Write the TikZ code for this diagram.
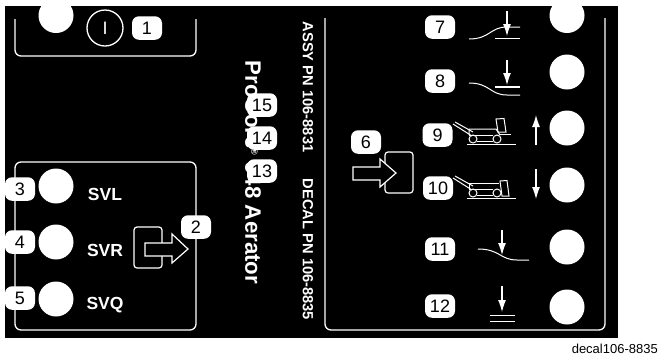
\documentclass[tikz,border=0pt]{standalone}
\usepackage{fontspec}
\setmainfont{Liberation Sans}
\newcommand{\px}[1]{\fontsize{#1}{#1}\selectfont}
\usetikzlibrary{arrows.meta}
\tikzset{
    badge/.style={fill=white,text=black,rounded corners=7pt,inner sep=0pt,minimum width=30pt,minimum height=23.5pt,font=\px{18}},
    hole/.style={circle,fill=white,inner sep=0pt,minimum size=35pt},
    panel/.style={draw=white,line width=1.3pt,rounded corners=6pt},
    sym/.style={draw=white,line width=1pt},
    symarrow/.style={draw=white,line width=1.1pt,-{Latex[length=12pt,width=8pt]}},
    blockarrow/.style={draw=white,fill=black,line width=1.2pt},
    decaltext/.style={text=white,font=\px{14.7}\bfseries,rotate=-90},
    svlabel/.style={text=white,font=\px{17.5}\bfseries},
}
\begin{document}
\begin{tikzpicture}[x=1pt,y=-1pt]
    \fill[white] (0,0) rectangle (661,360);
    \useasboundingbox (0,0) rectangle (661,360);
    \fill[black] (5,6) rectangle (617.5,338);
    %% panels
    \draw[panel] (15,19) -- (15,56) -- (196,56) -- (196,19);
    \draw[panel] (15,162) rectangle (196,330);
    \draw[panel] (325,18) -- (325,330) -- (605,330) -- (605,18);
    %% holes
    \foreach \name/\x/\y in {ha/56/15.5,hb/56/186,hc/56/242,hd/56/299,
        he/567/15.5,hf/567/72,hg/567/128,hh/567/185,hi/567/247,hj/567/307}
        \node[hole] (\name) at (\x,\y) {};
    %% switch symbol
    \node[circle,draw=white,line width=1.3pt,minimum size=36pt,inner sep=0pt,text=white,font=\px{18}] (onoff) at (105,28) {I};
    %% labels
    \node[svlabel] (svl) at (105,194) {SVL};
    \node[svlabel] (svr) at (105,250) {SVR};
    \node[svlabel] (svq) at (105,305) {SVQ};
    \node[decaltext] (assy) at (308,87) {ASSY PN 106-8831};
    \node[decaltext] (decal) at (308,249.5) {DECAL PN 106-8835};
    \node[text=white,font=\px{22.3}\bfseries,rotate=-90] (title) at (253,172.5) {ProCore{\px{9}\raisebox{6pt}{®}} 648 Aerator};
    \node[text=black,font=\px{13},anchor=east,inner sep=0pt] (caption) at (658,349) {decal106-8835};
    %% left block arrow
    \draw[draw=white,line width=1.2pt,rounded corners=3pt] (134,227) rectangle (162,268);
    \draw[blockarrow] (145,243) -- (172,243) -- (172,234) -- (188,249)
        -- (172,263) -- (172,256) -- (145,256) -- cycle;
    %% right block arrow
    \draw[draw=white,line width=1.2pt,rounded corners=3pt] (385,152) rectangle (413,193);
    \draw[blockarrow] (353,167) -- (380,167) -- (380,159) -- (396,173)
        -- (380,187) -- (380,180) -- (353,180) -- cycle;
    %% raise curve
    \draw[sym] (469,39) .. controls (490,39) and (490,27) .. (507,27) -- (520,27);
    \draw[sym] (495,38) -- (520,38);
    \coordinate (sa) at (507,11);
    \coordinate (sb) at (507,36);
    \draw[symarrow] (sa) -- (sb);
    %% lower curve
    \draw[sym] (469,83) .. controls (490,83) and (490,95) .. (507,95) -- (520,95);
    \draw[sym,line width=1.5pt] (495,87) -- (520,87);
    \coordinate (sc) at (507,60);
    \coordinate (sd) at (507,85);
    \draw[symarrow] (sc) -- (sd);
    %% transport up
    \coordinate (se) at (536,145);
    \coordinate (sf) at (536,115);
    \draw[symarrow] (se) -- (sf);
    \begin{scope}
        \draw[sym] (467,144) -- (516,144);
        \draw[sym] (473,139) circle (4);
        \draw[sym] (497,139) circle (4);
        \draw[sym] (477,141) -- (493,141);
        \draw[sym] (469,135) -- (469,129) -- (496,129) -- (500,135);
        \draw[sym] (469,135) -- (493,135);
        \draw[sym] (500,134) -- (511,134);
        \draw[sym] (496,119) -- (504,118.5) -- (506,132) -- (498,132) -- cycle;
        \draw[sym] (453,124) -- (472,136);
        \draw[sym] (455,122) -- (473,132);
    \end{scope}
    %% transport down
    \coordinate (sg) at (536,169);
    \coordinate (sh) at (536,199);
    \draw[symarrow] (sg) -- (sh);
    \begin{scope}
        \draw[sym] (467,198) -- (516,198);
        \draw[sym] (473,193) circle (4);
        \draw[sym] (497,193) circle (4);
        \draw[sym] (477,195) -- (493,195);
        \draw[sym] (469,189) -- (469,183) -- (499,183);
        \draw[sym] (469,189) -- (493,189);
        \draw[sym] (500,181) -- (507,180.5) -- (509,196) -- (502,196) -- cycle;
        \draw[sym] (453,178) -- (472,190);
        \draw[sym] (455,176) -- (473,186);
    \end{scope}
    %% float curve
    \draw[sym] (478,249) .. controls (500,249) and (500,260) .. (517,260) -- (529,260);
    \coordinate (si) at (502,230);
    \coordinate (sj) at (502,255);
    \draw[symarrow] (si) -- (sj);
    %% fixed height
    \draw[sym] (490,315) -- (515,315);
    \draw[sym] (490,321) -- (515,321);
    \coordinate (sk) at (502,286);
    \coordinate (sl) at (502,312);
    \draw[symarrow] (sk) -- (sl);
    %% number badges
    \foreach \name/\x/\y/\txt in {ba/147/28/1,bb/196/227/2,bc/20/189/3,bd/20/242/4,be/20/298/5,
        bf/366/142/6,bg/440/27/7,bh/440/81/8,bi/437.5/135/9,bj/438/188/10,bk/440/249/11,bl/440/306/12,
        bm/262/171/13,bn/262/138/14,bo/262/105/15}
        \node[badge] (\name) at (\x,\y) {\txt};
\end{tikzpicture}
\end{document}
